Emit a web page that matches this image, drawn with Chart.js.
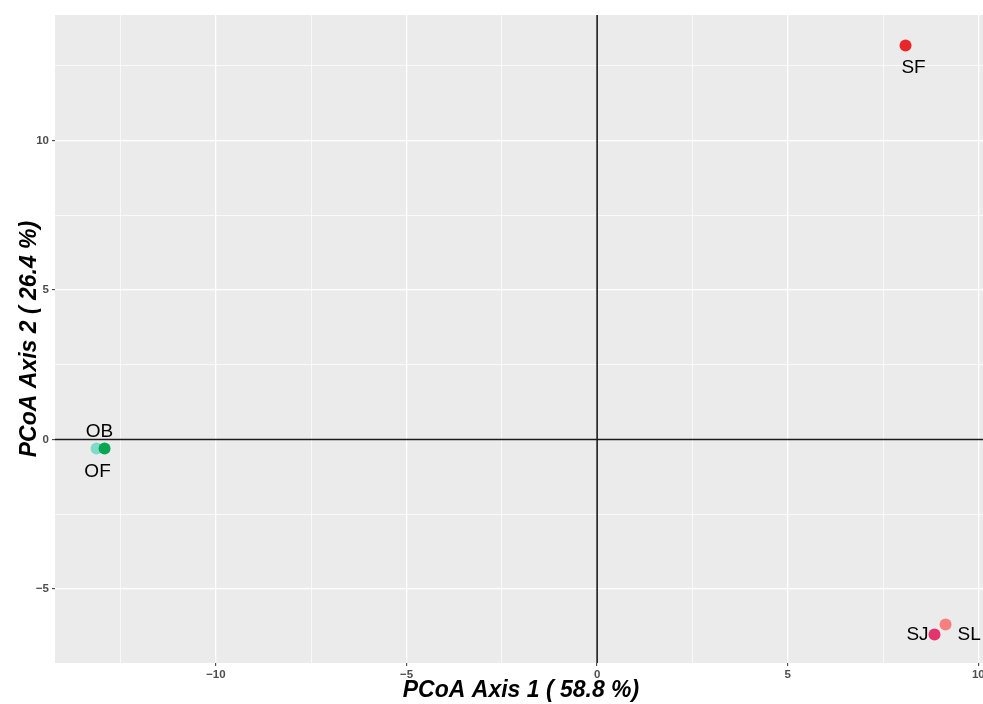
<!DOCTYPE html>
<html>
<head>
<meta charset="utf-8">
<script src="https://cdn.jsdelivr.net/npm/chart.js@4"></script>
<style>
  html, body { margin: 0; padding: 0; background: #ffffff; overflow: hidden; }
  #wrap { width: 983px; height: 704px; position: relative; overflow: hidden; }
  #c { position: absolute; left: 0; top: 0; }
</style>
</head>
<body>
<div id="wrap"><canvas id="c" width="993" height="704"></canvas></div>
<script>
// ---- data ----
const sampleNames = ['SF', 'SJ', 'SL', 'OB', 'OF'];
const axis1Values = [8.09, 8.85, 9.14, -13.13, -12.92];
const axis2Values = [13.18, -6.52, -6.19, -0.30, -0.30];
const xGridValues = [-12.5, -10, -7.5, -5, -2.5, 0, 2.5, 5, 7.5, 10];
const yGridValues = [-5, -2.5, 0, 2.5, 5, 7.5, 10, 12.5];
const xTickLabels = [-10, -5, 0, 5, 10];
const yTickLabels = [-5, 0, 5, 10];
const xTitle = 'PCoA Axis 1 ( 58.8 %)';
const yTitle = 'PCoA Axis 2 ( 26.4 %)';

// ---- styles ----
const pointColors = ['#e8272b', '#e5336d', '#f97f7f', '#7fdac8', '#0aa552'];
const labelOffsets = [[8, 22, 'center'], [-17, 0, 'center'], [12, 10, 'left'], [3, -17, 'center'], [-7, 23, 'center']];

function fmt(v) { return v < 0 ? '\u2212' + Math.abs(v) : String(v); }

const bgPlugin = {
  id: 'panelBg',
  beforeDraw(chart) {
    const { ctx, chartArea: a } = chart;
    ctx.save();
    ctx.fillStyle = '#ebebeb';
    ctx.fillRect(a.left, a.top, a.right - a.left, a.bottom - a.top);
    ctx.restore();
  }
};

const zeroLinePlugin = {
  id: 'zeroLines',
  beforeDatasetsDraw(chart) {
    const { ctx, chartArea: a, scales } = chart;
    const x0 = scales.x.getPixelForValue(0);
    const y0 = scales.y.getPixelForValue(0);
    ctx.save();
    ctx.strokeStyle = '#1a1a1a';
    ctx.lineWidth = 1.6;
    ctx.beginPath();
    ctx.moveTo(x0, a.top); ctx.lineTo(x0, a.bottom);
    ctx.moveTo(a.left, y0); ctx.lineTo(a.right, y0);
    ctx.stroke();
    ctx.restore();
  }
};

const labelPlugin = {
  id: 'pointLabels',
  afterDatasetsDraw(chart) {
    const { ctx } = chart;
    const meta = chart.getDatasetMeta(0);
    ctx.save();
    ctx.font = '19px "Liberation Sans", Arial, sans-serif';
    ctx.fillStyle = '#000000';
    ctx.textBaseline = 'middle';
    meta.data.forEach((pt, i) => {
      const off = labelOffsets[i];
      ctx.textAlign = off[2];
      ctx.fillText(sampleNames[i], pt.x + off[0], pt.y + off[1]);
    });
    ctx.restore();
  }
};

function gridWidth(ctx) {
  const v = ctx.tick ? ctx.tick.value : null;
  return (v % 5 === 0) ? 1.3 : 0.7;
}
function tickColor(ctx) {
  const v = ctx.tick ? ctx.tick.value : null;
  return (v % 5 === 0) ? '#333333' : 'rgba(0,0,0,0)';
}

const tickFont = { family: '"Liberation Sans", Arial, sans-serif', size: 11.5, weight: 'bold' };
const titleFont = { family: '"Liberation Sans", Arial, sans-serif', size: 23, weight: 'bold', style: 'italic' };

new Chart(document.getElementById('c'), {
  type: 'scatter',
  data: {
    datasets: [{
      data: axis1Values.map((x, i) => ({ x: x, y: axis2Values[i] })),
      backgroundColor: pointColors,
      borderWidth: 0,
      pointRadius: 6,
      pointHoverRadius: 6
    }]
  },
  options: {
    responsive: false,
    animation: false,
    devicePixelRatio: 1,
    layout: { padding: { top: 15, right: 1, left: 0, bottom: 0 } },
    plugins: { legend: { display: false }, tooltip: { enabled: false } },
    scales: {
      x: {
        type: 'linear',
        min: -14.22,
        max: 10.227,
        afterBuildTicks(s) { s.ticks = xGridValues.map(v => ({ value: v })); },
        afterFit(s) { s.height = 41; },
        border: { display: false },
        grid: { color: '#ffffff', lineWidth: gridWidth, drawTicks: true, tickLength: 3, tickColor: tickColor, tickWidth: 1 },
        ticks: {
          autoSkip: false, maxRotation: 0, padding: 2, color: '#4d4d4d', font: tickFont,
          callback: v => xTickLabels.includes(v) ? fmt(v) : ''
        },
        title: { display: true, text: xTitle, color: '#000000', padding: { top: 0, bottom: 0 }, font: titleFont }
      },
      y: {
        type: 'linear',
        min: -7.475,
        max: 14.197,
        afterBuildTicks(s) { s.ticks = yGridValues.map(v => ({ value: v })); },
        afterFit(s) { s.width = 55; },
        border: { display: false },
        grid: { color: '#ffffff', lineWidth: gridWidth, drawTicks: true, tickLength: 3, tickColor: tickColor, tickWidth: 1 },
        ticks: {
          autoSkip: false, padding: 3, color: '#4d4d4d', font: tickFont,
          callback: v => yTickLabels.includes(v) ? fmt(v) : ''
        },
        title: { display: true, text: yTitle, color: '#000000', padding: { top: 16, bottom: 0 }, font: titleFont }
      }
    }
  },
  plugins: [bgPlugin, zeroLinePlugin, labelPlugin]
});
</script>
</body>
</html>
